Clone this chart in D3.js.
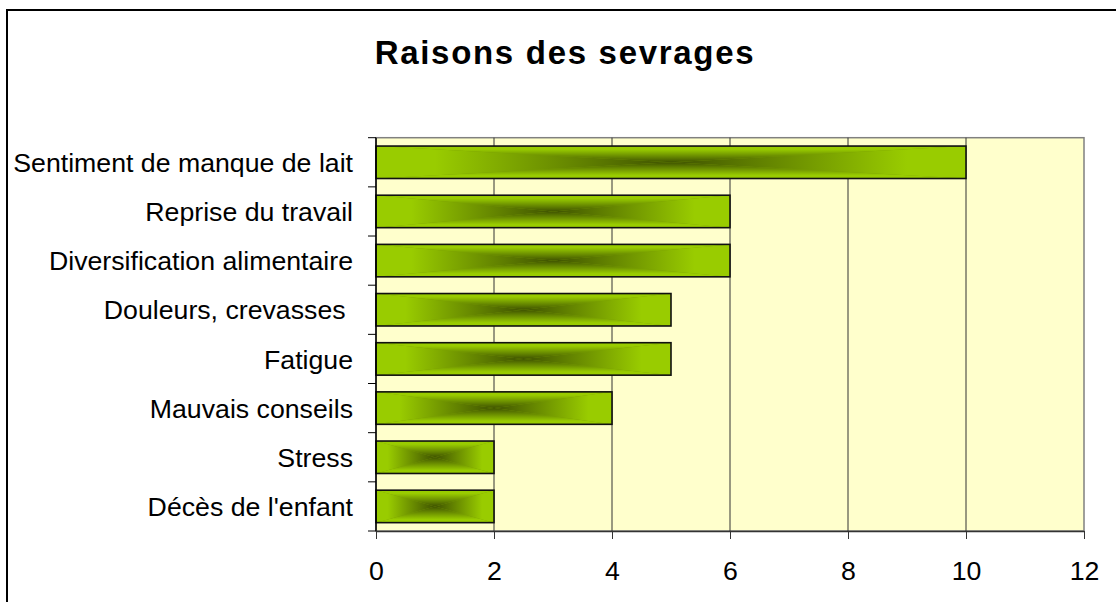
<!DOCTYPE html>
<html>
<head>
<meta charset="utf-8">
<script src="https://cdn.jsdelivr.net/npm/d3@7"></script>
<style>
  html, body { margin: 0; padding: 0; background: #fff; }
  svg { display: block; font-family: Arial, "Liberation Sans", sans-serif; }
</style>
</head>
<body>
<svg id="chart" width="1116" height="602"></svg>
<script>
'use strict';

// data
const categories = [
    'Sentiment de manque de lait',
    'Reprise du travail',
    'Diversification alimentaire',
    'Douleurs, crevasses ',
    'Fatigue',
    'Mauvais conseils',
    'Stress',
    'Décès de l\'enfant'
];
const values = [10, 6, 6, 5, 5, 4, 2, 2];
const xTicks = [0, 2, 4, 6, 8, 10, 12];
const chartTitle = 'Raisons des sevrages';

const svg = d3.select('#chart');

let plot = {left: 376, right: 1084, top: 137.7, bottom: 531};

let x = d3.scaleLinear()
    .domain([0, 12])
    .range([plot.left, plot.right]);

let y = d3.scaleBand()
    .domain(categories)
    .range([plot.top, plot.bottom])
    .paddingInner(0.34)
    .paddingOuter(0.17);

// outer frame
svg.append('rect')
    .attr('x', 7).attr('y', 10)
    .attr('width', 1140).attr('height', 640)
    .attr('fill', '#fff')
    .attr('stroke', '#000')
    .attr('stroke-width', 2);

// title
svg.append('text')
    .attr('x', 565)
    .attr('y', 64)
    .attr('text-anchor', 'middle')
    .style('font-size', '33px')
    .style('font-weight', 'bold')
    .style('letter-spacing', '1.7px')
    .text(chartTitle);

// gradients: edge light green to dark centre
let defs = svg.append('defs');
let light = '#99cc00';
let dark = '#3f5300';
let gradDefs = [
    {id: 'gTop', x1: 0, y1: 0, x2: 0, y2: 1},
    {id: 'gBottom', x1: 0, y1: 1, x2: 0, y2: 0},
    {id: 'gLeft', x1: 0, y1: 0, x2: 1, y2: 0},
    {id: 'gRight', x1: 1, y1: 0, x2: 0, y2: 0}
];
gradDefs.forEach(function(g) {
    let lg = defs.append('linearGradient')
        .attr('id', g.id)
        .attr('x1', g.x1).attr('y1', g.y1)
        .attr('x2', g.x2).attr('y2', g.y2);
    lg.append('stop').attr('offset', 0).attr('stop-color', light);
    lg.append('stop').attr('offset', 0.2).attr('stop-color', light);
    lg.append('stop').attr('offset', 1).attr('stop-color', dark);
});

// plot background
svg.append('rect')
    .attr('x', plot.left).attr('y', plot.top)
    .attr('width', plot.right - plot.left)
    .attr('height', plot.bottom - plot.top)
    .attr('fill', '#ffffcc')
    .attr('stroke', '#808080')
    .attr('stroke-width', 1.5);

// vertical gridlines
svg.append('g')
    .selectAll('line')
    .data(xTicks.slice(1, -1))
    .enter().append('line')
    .attr('x1', d => x(d)).attr('x2', d => x(d))
    .attr('y1', plot.top).attr('y2', plot.bottom)
    .attr('stroke', '#333')
    .attr('stroke-width', 1);

// bars
let bar = svg.append('g')
    .selectAll('g')
    .data(values)
    .enter().append('g');

bar.each(function(d, i, nodes) {
    let g = d3.select(nodes[i]);
    let x0 = x(0), x1 = x(d);
    let y0 = y(categories[i]), y1 = y0 + y.bandwidth();
    let cx = (x0 + x1) / 2, cy = (y0 + y1) / 2;
    g.append('rect')
        .attr('x', x0).attr('y', y0)
        .attr('width', x1 - x0).attr('height', y1 - y0)
        .attr('fill', '#7a9f00');
    let tris = [
        {id: 'gTop', pts: [[x0, y0], [x1, y0], [cx, cy]]},
        {id: 'gBottom', pts: [[x0, y1], [x1, y1], [cx, cy]]},
        {id: 'gLeft', pts: [[x0, y0], [cx, cy], [x0, y1]]},
        {id: 'gRight', pts: [[x1, y0], [cx, cy], [x1, y1]]}
    ];
    tris.forEach(function(t) {
        g.append('polygon')
            .attr('points', t.pts.map(p => p.join(',')).join(' '))
            .attr('fill', 'url(#' + t.id + ')');
    });
    g.append('rect')
        .attr('x', x0).attr('y', y0)
        .attr('width', x1 - x0).attr('height', y1 - y0)
        .attr('fill', 'none')
        .attr('stroke', '#111')
        .attr('stroke-width', 1.6);
});

// left axis line and ticks between categories
let step = y.step();
svg.append('line')
    .attr('x1', plot.left).attr('x2', plot.left)
    .attr('y1', plot.top).attr('y2', plot.bottom)
    .attr('stroke', '#000').attr('stroke-width', 1.5);
svg.append('g')
    .selectAll('line')
    .data(d3.range(categories.length + 1))
    .enter().append('line')
    .attr('x1', plot.left - 8).attr('x2', plot.left)
    .attr('y1', d => plot.top + d * step)
    .attr('y2', d => plot.top + d * step)
    .attr('stroke', '#000').attr('stroke-width', 1);

// category labels
svg.append('g')
    .selectAll('text')
    .data(categories)
    .enter().append('text')
    .attr('x', 353)
    .attr('y', d => y(d) + y.bandwidth() / 2)
    .attr('dy', '0.36em')
    .attr('text-anchor', 'end')
    .style('font-size', '26.7px')
    .style('white-space', 'pre')
    .attr('xml:space', 'preserve')
    .text(d => d);

// bottom axis
let xAxis = d3.axisBottom(x)
    .tickValues(xTicks)
    .tickSize(8)
    .tickSizeOuter(0);
let ax = svg.append('g')
    .attr('transform', 'translate(0,' + plot.bottom + ')')
    .call(xAxis);
ax.select('.domain').attr('stroke', '#333').attr('stroke-width', 1.5);
ax.selectAll('.tick line').attr('stroke', '#333');
ax.selectAll('.tick text')
    .attr('y', 48.5)
    .attr('dy', 0)
    .attr('fill', '#000')
    .style('font-size', '26.7px')
    .style('font-family', 'Arial, "Liberation Sans", sans-serif');
</script>
</body>
</html>
